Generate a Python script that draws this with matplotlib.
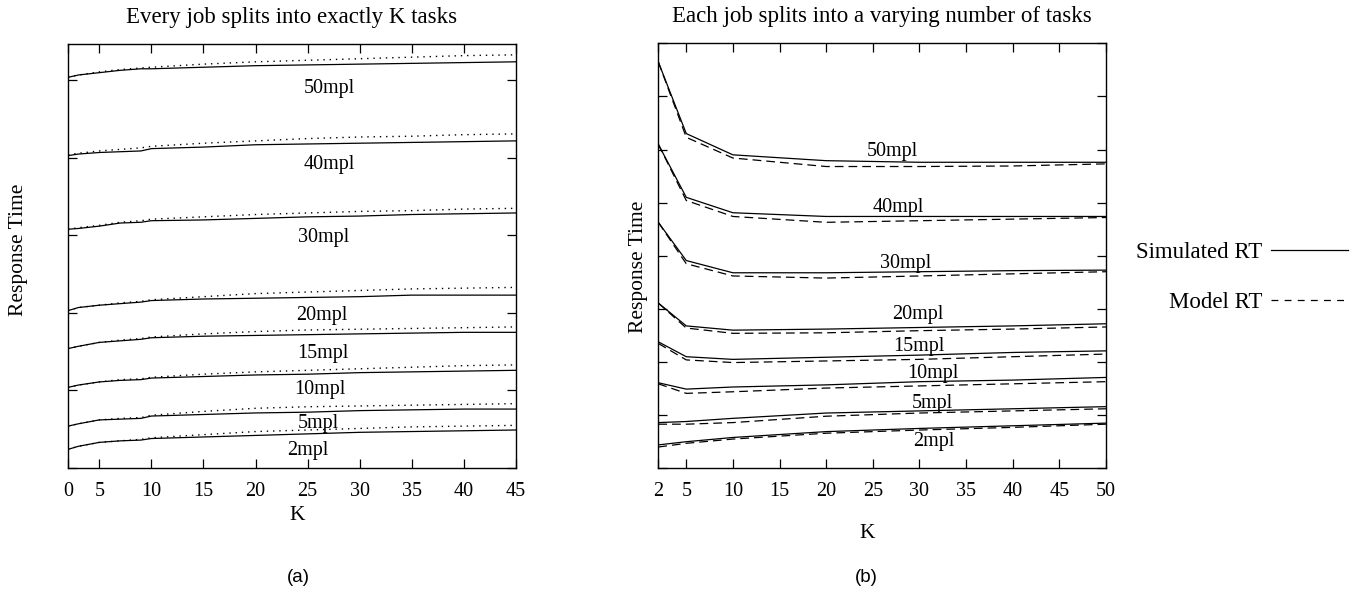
import matplotlib.pyplot as plt

plt.rcParams['font.family'] = 'Liberation Serif'
plt.rcParams['font.size'] = 14.5

# (a) every job splits into exactly K tasks
k_a = [2, 3, 5, 7, 9, 10, 15, 20, 25, 30, 35, 40, 45]
k_a_ticks = [2, 5, 10, 15, 20, 25, 30, 35, 40, 45]
k_a_ticklabels = ['0', '5', '10', '15', '20', '25', '30', '35', '40', '45']

sim_a_50 = [5.04, 5.07, 5.10, 5.13, 5.15, 5.15, 5.17, 5.19, 5.20, 5.21, 5.22, 5.23, 5.24]
mod_a_50 = [5.04, 5.07, 5.11, 5.14, 5.16, 5.17, 5.21, 5.24, 5.26, 5.28, 5.30, 5.32, 5.33]
sim_a_40 = [4.03, 4.05, 4.07, 4.08, 4.09, 4.12, 4.14, 4.17, 4.18, 4.19, 4.20, 4.21, 4.22]
mod_a_40 = [4.04, 4.06, 4.09, 4.11, 4.13, 4.15, 4.19, 4.22, 4.25, 4.27, 4.28, 4.30, 4.31]
sim_a_30 = [3.08, 3.09, 3.12, 3.16, 3.17, 3.19, 3.20, 3.22, 3.24, 3.25, 3.27, 3.28, 3.29]
mod_a_30 = [3.08, 3.10, 3.13, 3.17, 3.19, 3.21, 3.24, 3.27, 3.29, 3.31, 3.32, 3.34, 3.35]
sim_a_20 = [2.03, 2.07, 2.10, 2.12, 2.14, 2.16, 2.18, 2.19, 2.20, 2.21, 2.23, 2.23, 2.23]
mod_a_20 = [2.03, 2.07, 2.10, 2.13, 2.15, 2.17, 2.21, 2.25, 2.27, 2.29, 2.31, 2.32, 2.33]
sim_a_15 = [1.54, 1.57, 1.62, 1.64, 1.66, 1.68, 1.70, 1.71, 1.72, 1.73, 1.74, 1.75, 1.75]
mod_a_15 = [1.54, 1.57, 1.62, 1.65, 1.67, 1.69, 1.73, 1.76, 1.78, 1.79, 1.80, 1.81, 1.82]
sim_a_10 = [1.04, 1.07, 1.11, 1.13, 1.14, 1.16, 1.18, 1.20, 1.21, 1.23, 1.24, 1.25, 1.26]
mod_a_10 = [1.04, 1.07, 1.11, 1.14, 1.15, 1.17, 1.21, 1.24, 1.26, 1.28, 1.30, 1.32, 1.33]
sim_a_5 = [0.54, 0.57, 0.62, 0.63, 0.64, 0.67, 0.69, 0.71, 0.72, 0.74, 0.75, 0.76, 0.76]
mod_a_5 = [0.54, 0.57, 0.62, 0.64, 0.65, 0.68, 0.73, 0.77, 0.79, 0.80, 0.81, 0.82, 0.83]
sim_a_2 = [0.24, 0.28, 0.33, 0.35, 0.36, 0.38, 0.40, 0.42, 0.44, 0.46, 0.47, 0.48, 0.49]
mod_a_2 = [0.24, 0.28, 0.33, 0.35, 0.37, 0.39, 0.43, 0.47, 0.49, 0.51, 0.53, 0.54, 0.55]

# (b) each job splits into a varying number of tasks
k_b = [2, 5, 10, 20, 30, 40, 50]
k_b_ticks = [2, 5, 10, 15, 20, 25, 30, 35, 40, 45, 50]

sim_b_50 = [7.65, 6.30, 5.90, 5.79, 5.76, 5.76, 5.76]
mod_b_50 = [7.65, 6.23, 5.84, 5.68, 5.68, 5.69, 5.73]
sim_b_40 = [6.10, 5.10, 4.81, 4.74, 4.74, 4.74, 4.74]
mod_b_40 = [6.10, 5.04, 4.74, 4.63, 4.66, 4.69, 4.72]
sim_b_30 = [4.63, 3.91, 3.68, 3.68, 3.70, 3.72, 3.73]
mod_b_30 = [4.63, 3.85, 3.62, 3.58, 3.62, 3.66, 3.70]
sim_b_20 = [3.11, 2.68, 2.60, 2.62, 2.65, 2.68, 2.72]
mod_b_20 = [3.11, 2.64, 2.54, 2.55, 2.59, 2.62, 2.66]
sim_b_15 = [2.38, 2.10, 2.05, 2.09, 2.13, 2.18, 2.21]
mod_b_15 = [2.35, 2.04, 1.99, 2.02, 2.05, 2.10, 2.15]
sim_b_10 = [1.61, 1.49, 1.53, 1.57, 1.63, 1.66, 1.71]
mod_b_10 = [1.59, 1.41, 1.44, 1.51, 1.55, 1.59, 1.63]
sim_b_5 = [0.86, 0.88, 0.94, 1.04, 1.08, 1.12, 1.16]
mod_b_5 = [0.83, 0.83, 0.86, 0.98, 1.04, 1.08, 1.12]
sim_b_2 = [0.44, 0.50, 0.58, 0.69, 0.75, 0.80, 0.85]
mod_b_2 = [0.40, 0.47, 0.55, 0.66, 0.72, 0.77, 0.83]

mpl_names = ['50mpl', '40mpl', '30mpl', '20mpl', '15mpl', '10mpl', '5mpl', '2mpl']

fig = plt.figure(figsize=(13.52, 5.96), dpi=100)
ax1 = fig.add_axes([0.0503, 0.2148, 0.3314, 0.7114])
ax2 = fig.add_axes([0.4869, 0.2143, 0.3311, 0.7131])

# panel (a)
sims_a = [sim_a_50, sim_a_40, sim_a_30, sim_a_20, sim_a_15, sim_a_10, sim_a_5, sim_a_2]
mods_a = [mod_a_50, mod_a_40, mod_a_30, mod_a_20, mod_a_15, mod_a_10, mod_a_5, mod_a_2]
for s, m in zip(sims_a, mods_a):
    ax1.plot(k_a, s, color='black', lw=0.9)
    ax1.plot(k_a, m, color='black', lw=1.0, linestyle=(0, (1, 3.5)))

lab_a = [(27.1, 4.89), (27.1, 3.91), (26.5, 2.97), (26.4, 1.97),
         (26.5, 1.48), (26.2, 1.01), (26.0, 0.57), (25.0, 0.23)]
for name, (x, y) in zip(mpl_names, lab_a):
    ax1.text(x, y, name, ha='center', va='center')

ax1.set_xlim(2, 45)
ax1.set_ylim(0, 5.47)
ax1.set_xticks(k_a_ticks)
ax1.set_xticklabels(k_a_ticklabels)
ax1.set_yticks([0, 1, 2, 3, 4, 5])
ax1.set_yticklabels([])
ax1.set_title('Every job splits into exactly K tasks', pad=15, fontsize=16.5)

# panel (b)
sims_b = [sim_b_50, sim_b_40, sim_b_30, sim_b_20, sim_b_15, sim_b_10, sim_b_5, sim_b_2]
mods_b = [mod_b_50, mod_b_40, mod_b_30, mod_b_20, mod_b_15, mod_b_10, mod_b_5, mod_b_2]
for s, m in zip(sims_b, mods_b):
    ax2.plot(k_b, s, color='black', lw=0.9)
    ax2.plot(k_b, m, color='black', lw=0.9, dashes=(7, 4))

lab_b = [(27.1, 5.96), (27.7, 4.90), (28.5, 3.86), (29.8, 2.89),
         (29.9, 2.30), (31.4, 1.79), (31.4, 1.21), (31.5, 0.50)]
for name, (x, y) in zip(mpl_names, lab_b):
    ax2.text(x, y, name, ha='center', va='center')

ax2.set_xlim(2, 50)
ax2.set_ylim(0, 8)
ax2.set_xticks(k_b_ticks)
ax2.set_yticks(range(0, 9))
ax2.set_yticklabels([])
ax2.set_title('Each job splits into a varying number of tasks', pad=15, fontsize=16.5)

for ax in (ax1, ax2):
    ax.tick_params(direction='in', top=True, right=True, length=6.5, width=0.9, pad=10)
    for sp in ax.spines.values():
        sp.set_linewidth(1.0)

fig.text(19 / 1352, 1 - 250 / 596, 'Response Time', rotation=90, ha='center', va='center',
         fontsize=15.5)
fig.text(639 / 1352, 1 - 267 / 596, 'Response Time', rotation=90, ha='center', va='center',
         fontsize=15.5)
fig.text(297 / 1352, 1 - 516 / 596, 'K', ha='center', va='center', fontsize=15.5)
fig.text(867 / 1352, 1 - 534 / 596, 'K', ha='center', va='center', fontsize=15.5)
fig.text(298 / 1352, 1 - 578 / 596, '(a)', ha='center', va='center',
         family='Liberation Sans', fontsize=13.5)
fig.text(866 / 1352, 1 - 578 / 596, '(b)', ha='center', va='center',
         family='Liberation Sans', fontsize=13.5)

h_sim = plt.Line2D([], [], color='black', lw=0.9)
h_mod = plt.Line2D([], [], color='black', lw=0.9, dashes=(5.5, 5))
fig.legend([h_sim, h_mod], ['Simulated RT', 'Model RT'], loc='center left',
           bbox_to_anchor=(1136 / 1352, 1 - 277.5 / 596), markerfirst=False,
           frameon=False, borderpad=0, borderaxespad=0, handlelength=3.36,
           handletextpad=0.4, labelspacing=1.29, fontsize=16.5)

fig.savefig('out.png', dpi=100)
